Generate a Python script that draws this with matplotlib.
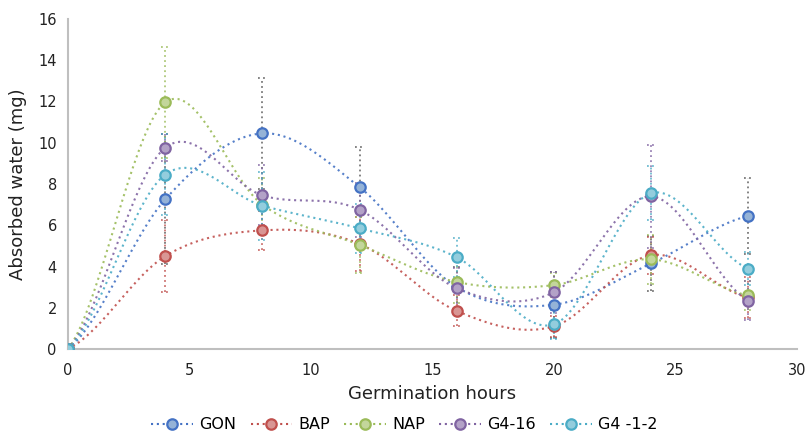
import numpy as np
import matplotlib
matplotlib.use("Agg")
import matplotlib.pyplot as plt
from matplotlib.lines import Line2D

hours = [0, 4, 8, 12, 16, 20, 24, 28]
series_names = ["GON", "BAP", "NAP", "G4-16", "G4 -1-2"]
gon = [0, 7.25, 10.45, 7.85, 3.0, 2.15, 4.15, 6.45]
bap = [0, 4.5, 5.75, 5.1, 1.85, 1.1, 4.55, 2.5]
nap = [0, 11.95, 7.0, 5.05, 3.25, 3.1, 4.35, 2.6]
g416 = [0, 9.75, 7.45, 6.75, 2.95, 2.75, 7.4, 2.35]
g412 = [0, 8.45, 6.95, 5.85, 4.45, 1.2, 7.55, 3.9]

gon_err = [0, 3.15, 2.7, 1.95, 1.0, 1.6, 1.35, 1.85]
bap_err = [0, 1.75, 0.95, 1.3, 0.75, 0.5, 0.9, 1.0]
nap_err = [0, 2.7, 1.3, 1.35, 1.0, 0.6, 1.2, 0.7]
g416_err = [0, 0.65, 1.45, 1.3, 1.0, 1.0, 2.5, 0.95]
g412_err = [0, 1.95, 1.65, 1.2, 0.95, 0.7, 1.3, 0.8]

values = [gon, bap, nap, g416, g412]
errors = [gon_err, bap_err, nap_err, g416_err, g412_err]
line_colors = ["#4472C4", "#C0504D", "#9BBB59", "#8064A2", "#4BACC6"]
fill_colors = ["#95B3D7", "#D99694", "#C3D69B", "#B3A2C7", "#93CDDD"]
err_colors = ["#595959", "#C0504D", "#9BBB59", "#8064A2", "#4BACC6"]

DOT = (0, (1, 1.8))


def smooth(x, y, n=40):
    # Catmull-Rom smoothing similar to spreadsheet "smoothed line"
    x = np.asarray(x, float)
    y = np.asarray(y, float)
    px = np.concatenate([[2 * x[0] - x[1]], x, [2 * x[-1] - x[-2]]])
    py = np.concatenate([[y[0]], y, [y[-1]]])
    xs, ys = [], []
    t = np.linspace(0, 1, n)
    for i in range(1, len(px) - 2):
        p0x, p1x, p2x, p3x = px[i - 1:i + 3]
        p0y, p1y, p2y, p3y = py[i - 1:i + 3]
        c1x = p1x + (p2x - p0x) / 6
        c1y = p1y + (p2y - p0y) / 6
        c2x = p2x - (p3x - p1x) / 6
        c2y = p2y - (p3y - p1y) / 6
        bx = (1 - t) ** 3 * p1x + 3 * (1 - t) ** 2 * t * c1x + 3 * (1 - t) * t ** 2 * c2x + t ** 3 * p2x
        by = (1 - t) ** 3 * p1y + 3 * (1 - t) ** 2 * t * c1y + 3 * (1 - t) * t ** 2 * c2y + t ** 3 * p2y
        xs.extend(bx)
        ys.extend(by)
    return np.array(xs), np.array(ys)


fig = plt.figure(figsize=(8.09, 4.38), dpi=100)
ax = fig.add_axes([0.084, 0.203, 0.901, 0.754])

cap_half = 0.17
for name, v, e, lc, fc, ec in zip(series_names, values, errors, line_colors, fill_colors, err_colors):
    xs = np.array(hours[1:], float)
    vv = np.array(v[1:], float)
    ee = np.array(e[1:], float)
    ax.vlines(xs, vv - ee, vv + ee, colors=ec, linestyles=[DOT], linewidth=1.3, zorder=2, alpha=0.8)
    ax.hlines(vv + ee, xs - cap_half, xs + cap_half, colors=ec, linestyles=[DOT], linewidth=1.3, zorder=2, alpha=0.8)
    ax.hlines(vv - ee, xs - cap_half, xs + cap_half, colors=ec, linestyles=[DOT], linewidth=1.3, zorder=2, alpha=0.8)
for name, v, e, lc, fc, ec in zip(series_names, values, errors, line_colors, fill_colors, err_colors):
    sx, sy = smooth(hours, v)
    ax.plot(sx, sy, linestyle=DOT, color=lc, lw=1.5, zorder=3, alpha=0.9)
    ax.plot(hours, v, linestyle="none", marker="o", markersize=7.5, markerfacecolor=fc,
            markeredgecolor=lc, markeredgewidth=1.6, zorder=4)

ax.set_xlim(0, 30)
ax.set_ylim(0, 16)
ax.set_xticks(range(0, 31, 5))
ax.set_yticks(range(0, 17, 2))
ax.tick_params(length=0, labelsize=10.5, colors="#222222")
ax.tick_params(axis="x", pad=10)
ax.tick_params(axis="y", pad=8)
for s in ["top", "right"]:
    ax.spines[s].set_visible(False)
for s in ["left", "bottom"]:
    ax.spines[s].set_color("#BFBFBF")
    ax.spines[s].set_linewidth(1.5)
ax.set_xlabel("Germination hours", fontsize=13, color="#222222", labelpad=5)
ax.set_ylabel("Absorbed water (mg)", fontsize=13, color="#222222", labelpad=8)

handles = [Line2D([0], [0], linestyle=DOT, color=lc, lw=1.5, marker="o", markersize=7.5,
                  markerfacecolor=fc, markeredgecolor=lc, markeredgewidth=1.6)
           for lc, fc in zip(line_colors, fill_colors)]
fig.legend(handles, series_names, loc="center", bbox_to_anchor=(0.5, 0.03), ncol=5,
           frameon=False, fontsize=11.5, handlelength=2.6, columnspacing=0.9, handletextpad=0.4,
           borderpad=0.2)

fig.savefig("out.png", dpi=100)
